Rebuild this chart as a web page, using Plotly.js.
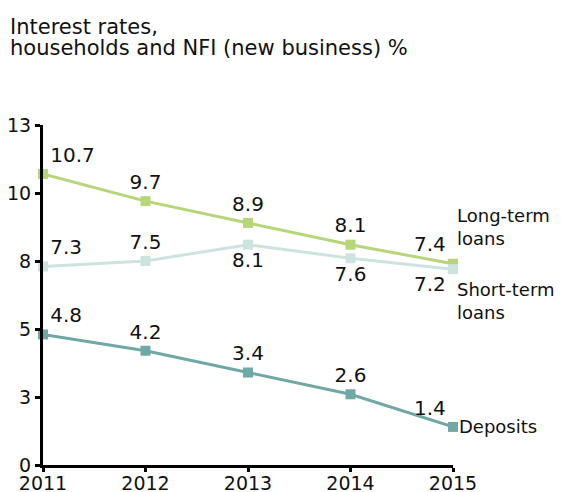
<!DOCTYPE html>
<html>
<head>
<meta charset="utf-8">
<script src="https://cdn.plot.ly/plotly-3.0.1.min.js"></script>
<style>html,body{margin:0;padding:0;background:#fff}#chart{width:561px;height:492px}</style>
</head>
<body>
<div id="chart"></div>
<script>
const years = [2011, 2012, 2013, 2014, 2015];
const longTerm = [10.7, 9.7, 8.9, 8.1, 7.4];
const shortTerm = [7.3, 7.5, 8.1, 7.6, 7.2];
const deposits = [4.8, 4.2, 3.4, 2.6, 1.4];
const yTickVals = [0, 2.5, 5, 7.5, 10, 12.5];
const yTickText = ['0', '3', '5', '8', '10', '13'];
const seriesNames = ['Long-term<br>loans', 'Short-term<br>loans', 'Deposits'];
const titleLines = ['Interest rates,', 'households and NFI (new business) %'];

const font = 'DejaVu Sans, Verdana, sans-serif';
function fmt(a){return a.map(v=>v.toFixed(1));}
function trace(y, color, pos){
  return {x: years, y: y, mode: 'lines+markers+text', text: fmt(y), textposition: pos,
    textfont: {family: font, size: 20, color: '#111'},
    line: {color: color, width: 3}, marker: {symbol: 'square', size: 10, color: color},
    cliponaxis: false, hoverinfo: 'skip', showlegend: false};
}
const data = [
  trace(longTerm, '#b6d679', ['top right','top center','top center','top center','top left']),
  trace(shortTerm, '#cde3df', ['top right','top center','bottom center','bottom center','bottom left']),
  trace(deposits, '#70a8a5', ['top right','top center','top center','top center','top left'])
];
// paper-coordinate helpers for the fixed plot box (l=43, top=125, bottom=465, width=410)
const px2x = px => (px - 43) / 410;
const py2y = py => (465 - py) / 340;
const axisCommon = {showgrid: false, zeroline: false, showline: true, linecolor: '#000', linewidth: 3,
  ticks: 'outside', tickwidth: 3, tickcolor: '#000', tickfont: {family: font, size: 19, color: '#111'}, fixedrange: true};
const layout = {
  width: 561, height: 492,
  margin: {l: 43, r: 108, t: 125, b: 27},
  paper_bgcolor: '#fff', plot_bgcolor: '#fff',
  font: {family: font, size: 18, color: '#111'},
  xaxis: Object.assign({range: [2011, 2015], tickvals: years, ticktext: years.map(String), ticklen: 4, ticklabelstandoff: -5}, axisCommon),
  yaxis: Object.assign({range: [0, 12.5], tickvals: yTickVals, ticktext: yTickText, ticklen: 5}, axisCommon),
  annotations: [
    {xref: 'paper', yref: 'paper', x: px2x(8), y: py2y(27), text: titleLines[0], xanchor: 'left', yanchor: 'middle', showarrow: false, font: {family: font, size: 21, color: '#111'}},
    {xref: 'paper', yref: 'paper', x: px2x(8), y: py2y(48), text: titleLines[1], xanchor: 'left', yanchor: 'middle', showarrow: false, font: {family: font, size: 21, color: '#111'}},
    {x: 2015, y: longTerm[4], text: seriesNames[0], xanchor: 'left', yanchor: 'bottom', xshift: 2, yshift: 13, showarrow: false, align: 'left', font: {family: font, size: 18, color: '#111'}},
    {x: 2015, y: shortTerm[4], text: seriesNames[1], xanchor: 'left', yanchor: 'top', xshift: 2, yshift: -8, showarrow: false, align: 'left', font: {family: font, size: 18, color: '#111'}},
    {x: 2015, y: deposits[4], text: seriesNames[2], xanchor: 'left', yanchor: 'middle', xshift: 4, showarrow: false, align: 'left', font: {family: font, size: 18, color: '#111'}}
  ]
};
Plotly.newPlot('chart', data, layout, {staticPlot: true});
</script>
</body>
</html>
